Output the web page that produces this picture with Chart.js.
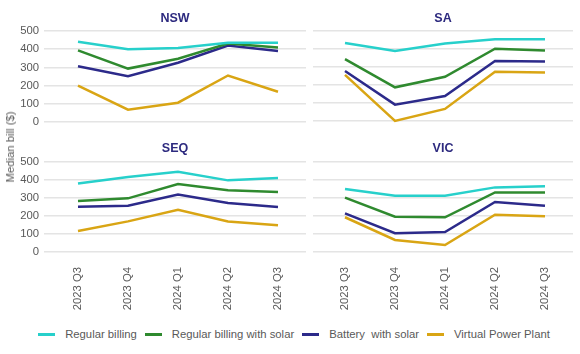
<!DOCTYPE html>
<html>
<head>
<meta charset="utf-8">
<script src="https://cdn.jsdelivr.net/npm/chart.js@4.4.1/dist/chart.umd.min.js"></script>
<style>
html,body{margin:0;padding:0;background:#fff;width:580px;height:354px;overflow:hidden;font-family:"Liberation Sans",Arial,sans-serif;}
canvas{position:absolute;}
#ytitle{position:absolute;left:10px;top:147px;transform:translate(-50%,-50%) rotate(-90deg);white-space:nowrap;font-size:11.3px;color:#595959;}
#legend{position:absolute;left:0;top:326px;width:596px;height:16px;display:flex;justify-content:center;align-items:center;font-size:11.3px;color:#595959;white-space:pre;}
.item{display:flex;align-items:center;margin-right:8px;}
.sw{width:17px;height:3px;margin-right:10px;}
</style>
</head>
<body>
<canvas id="c1" width="310" height="134" style="left:0;top:0;width:310px;height:134px"></canvas>
<canvas id="c2" width="270" height="128" style="left:310px;top:0;width:270px;height:128px"></canvas>
<canvas id="c3" width="310" height="184" style="left:0;top:130px;width:310px;height:184px"></canvas>
<canvas id="c4" width="270" height="184" style="left:310px;top:130px;width:270px;height:184px"></canvas>
<div id="ytitle">Median bill ($)</div>
<div id="legend"></div>
<script>
// ---- data ----
const quarters = ['2023 Q3', '2023 Q4', '2024 Q1', '2024 Q2', '2024 Q3'];
const seriesNames = ['Regular billing', 'Regular billing with solar', 'Battery  with solar', 'Virtual Power Plant'];
const seriesColors = ['#27d0cb', '#2f8a2f', '#2c2a8a', '#d9a514'];
const yTicks = [0, 100, 200, 300, 400, 500];

const nswRegular = [441, 400, 407, 435, 435];
const nswSolar   = [394, 294, 348, 431, 409];
const nswBattery = [307, 252, 326, 420, 391];
const nswVpp     = [200, 69, 107, 256, 167];

const saRegular = [433, 389, 430, 454, 454];
const saSolar   = [344, 187, 246, 402, 391];
const saBattery = [278, 91, 139, 333, 331];
const saVpp     = [256, 0, 67, 274, 269];

const seqRegular = [381, 417, 446, 398, 411];
const seqSolar   = [283, 298, 378, 343, 333];
const seqBattery = [252, 257, 319, 272, 250];
const seqVpp     = [117, 170, 235, 170, 148];

const vicRegular = [350, 313, 313, 359, 365];
const vicSolar   = [302, 196, 193, 331, 331];
const vicBattery = [215, 104, 111, 278, 257];
const vicVpp     = [193, 67, 39, 207, 198];

// ---- drawing ----
const FONT = '"Liberation Sans", Arial, sans-serif';
const TXT = '#595959';
const GRID = '#e4e4e4';

function makeChart(id, title, series, left, bottom) {
  const datasets = series.map((vals, i) => ({
    label: seriesNames[i],
    data: vals.map((v, j) => ({x: j, y: v})),
    borderColor: seriesColors[i],
    backgroundColor: seriesColors[i],
    borderWidth: 2.5,
    pointRadius: 0,
    tension: 0,
    clip: false
  }));
  new Chart(document.getElementById(id), {
    type: 'line',
    data: {datasets},
    options: {
      responsive: false,
      animation: false,
      layout: {padding: {left: left ? 0 : 3, right: left ? 4 : 7, top: 0, bottom: bottom ? 0 : 7}},
      plugins: {
        legend: {display: false},
        tooltip: {enabled: false},
        title: {
          display: true, text: title, color: '#2d2a7f', fullSize: false,
          font: {family: FONT, size: 12.5, weight: 'bold'},
          padding: bottom ? {top: 11.5, bottom: 5.5} : {top: 11, bottom: 5}
        }
      },
      scales: {
        x: {
          type: 'linear',
          min: left ? -0.68 : -0.64,
          max: 4.56,
          display: bottom,
          grid: {display: false, drawTicks: false},
          border: {display: false},
          afterBuildTicks: (ax) => { ax.ticks = quarters.map((q, i) => ({value: i})); },
          afterFit: (ax) => { ax.height = bottom ? 62 : 0; },
          ticks: {
            autoSkip: false, minRotation: 90, maxRotation: 90, padding: 15,
            color: TXT, font: {family: FONT, size: 11.3},
            callback: (v) => quarters[v]
          }
        },
        y: {
          min: 0, max: 500,
          afterBuildTicks: (ax) => { ax.ticks = yTicks.map(v => ({value: v})); },
          afterFit: (ax) => { ax.width = left ? 44 : 0; },
          grid: {color: GRID, lineWidth: 1.5, drawTicks: false},
          border: {display: false},
          ticks: {display: left, padding: 5, color: TXT, font: {family: FONT, size: 11.3}}
        }
      }
    }
  });
}

makeChart('c1', 'NSW', [nswRegular, nswSolar, nswBattery, nswVpp], true, false);
makeChart('c2', 'SA',  [saRegular, saSolar, saBattery, saVpp], false, false);
makeChart('c3', 'SEQ', [seqRegular, seqSolar, seqBattery, seqVpp], true, true);
makeChart('c4', 'VIC', [vicRegular, vicSolar, vicBattery, vicVpp], false, true);

// legend
const lg = document.getElementById('legend');
seriesNames.forEach((n, i) => {
  const it = document.createElement('div');
  it.className = 'item';
  const sw = document.createElement('div');
  sw.className = 'sw';
  sw.style.background = seriesColors[i];
  const t = document.createElement('span');
  t.textContent = n;
  it.appendChild(sw); it.appendChild(t);
  lg.appendChild(it);
});
</script>
</body>
</html>
